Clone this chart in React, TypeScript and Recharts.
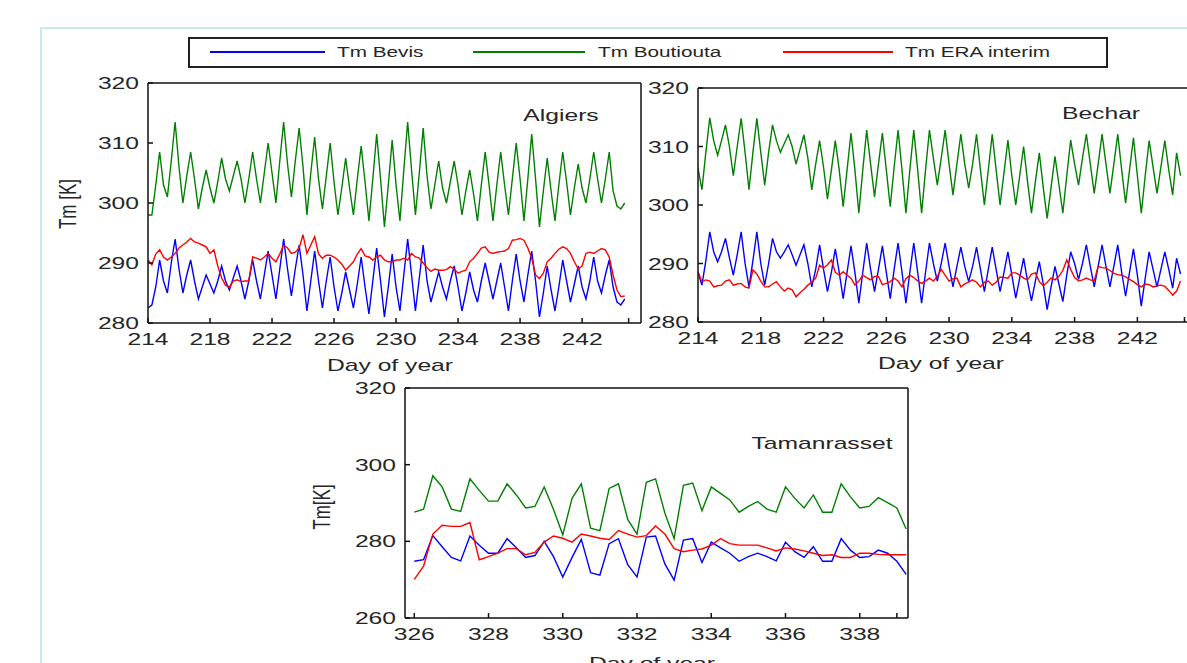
import { LineChart, Line, XAxis, YAxis } from 'recharts';

const FONT = '"Liberation Sans", Arial, sans-serif';
const INK = '#262626';
const STRETCH = 1.45;

const seriesColors = {
  bevis: '#0000ff',
  boutiouta: '#008000',
  era: '#ff0000',
};

const legendItems = [
  { key: 'bevis', label: 'Tm Bevis', x1: 210, x2: 325, tx: 337 },
  { key: 'boutiouta', label: 'Tm Boutiouta', x1: 473, x2: 585, tx: 598 },
  { key: 'era', label: 'Tm ERA interim', x1: 783, x2: 893, tx: 905 },
];

// ---- Algiers / Bechar: one row per day, values at 00, 06, 12, 18 UTC ----
const augStart = 214;
const augTicks = [214, 218, 222, 226, 230, 234, 238, 242, 245];
const augDomain = [214, 245.8];
const tempTicks = [280, 290, 300, 310, 320];

const algiersBevis = [
  [282.5, 283, 286, 290.5], [287, 285, 290, 294], [289, 285, 288, 290.5], [287, 284, 286, 288],
  [286.5, 285, 287, 289.5], [287, 285.5, 287.5, 289.5], [287, 284, 287, 290.5], [287, 284, 288, 292],
  [288, 284, 289, 294], [289, 284.5, 289, 293], [288, 282, 287, 292], [287, 282.5, 287, 291],
  [286, 282, 285, 288.5], [285.5, 282.5, 286.5, 291], [286, 281.5, 287, 292.5], [287, 281, 286, 291.5],
  [286, 282, 288, 294], [288, 282, 287.5, 293], [287, 283.5, 286, 288.5], [286, 284, 287, 289.5],
  [286, 282, 285, 288.5], [285.5, 283.5, 287, 290], [287, 284, 287, 290], [286, 282, 287, 291.5],
  [287, 283.5, 288, 292], [287, 281, 285, 289.5], [285.5, 282, 286, 290.5], [287, 283.5, 286.5, 289.5],
  [286, 284, 287, 291], [287, 285, 288, 290.5], [286, 283.5, 283, 284],
];

const algiersBoutiouta = [
  [298, 298, 303, 308.5], [303, 301, 307, 313.5], [306, 300, 304.5, 308.5], [304, 299, 302.5, 305.5],
  [302.5, 300, 303.5, 307.5], [304, 302, 304.5, 307], [304, 300, 304, 308.5], [304, 300, 305, 310],
  [305, 300, 307, 313.5], [306.5, 301, 307, 312.5], [306, 298, 305, 311], [304, 299, 304.5, 310],
  [303.5, 298, 302.5, 307.5], [302.5, 298, 304, 309.5], [303.5, 297, 304, 311.5], [304, 296, 303, 310.5],
  [303, 297, 305.5, 313.5], [305.5, 298, 305, 312.5], [304.5, 299, 303, 307], [302.5, 300, 303.5, 307],
  [303, 298, 302, 305.5], [301.5, 297, 303, 308.5], [303, 297, 303, 308.5], [303, 298, 304, 310],
  [304, 297, 304, 311.5], [304, 296, 302, 307.5], [302, 297, 303, 308.5], [303.5, 298, 302.5, 306.5],
  [302.5, 300, 304, 308.5], [304, 300, 304, 308.5], [302, 299.5, 299, 300],
];

const algiersEra = [
  [290.5, 289.7, 291.5, 292.2], [291, 290.5, 291, 291.6], [292.5, 293, 293.5, 294.1], [293.5, 293.3, 293, 292.7],
  [291.6, 292.2, 289.5, 287.5], [286.3, 286, 287, 287.2], [286.9, 287, 287, 291], [290.8, 290.5, 291, 291.6],
  [290.8, 290.2, 291.5, 293], [292.5, 291.6, 291.8, 292.5], [294.7, 291.6, 293, 294.4], [291.5, 290.8, 291.3, 291.3],
  [291, 290.5, 289.8, 288.8], [289.5, 290.2, 291.5, 292.4], [291.2, 291, 290.5, 291], [291.3, 290.5, 290.2, 290.2],
  [290.5, 290.5, 290.8, 290.5], [291.6, 291, 290.8, 290], [289.2, 288.6, 289, 288.8], [288.8, 288.9, 289.4, 289],
  [288.3, 288.6, 288.8, 290.2], [290.8, 291.6, 292.5, 292.7], [291.8, 291.6, 291.8, 291.9], [292, 292.4, 293.8, 293.9],
  [294.1, 293.8, 292.5, 290.8], [288, 287.4, 288.3, 290.2], [290.8, 291.6, 292.3, 292.7], [292.4, 291.6, 290.2, 289],
  [289.5, 291.6, 291.8, 291.6], [292, 292.4, 292.2, 291], [288, 285.5, 284.4, 284.5],
];

const becharBevis = [
  [288.5, 286.3, 290.5, 295.4], [292, 290.3, 292, 294.3], [291, 288, 291.5, 295.4], [290, 286, 290.5, 295.4],
  [290, 286.3, 290, 294.3], [292, 290.9, 292, 293.2], [291.5, 289.7, 291.5, 293.2], [290, 286, 289, 293.2],
  [289, 285.2, 288.5, 292.5], [288.5, 284, 288.5, 293], [288.5, 283.2, 288.5, 293.5], [289, 285.2, 289, 293],
  [288.5, 284, 289, 293.5], [288.5, 283.2, 288.5, 293.5], [288.5, 283.2, 288.5, 293.5], [290, 287, 290, 293.5],
  [289.5, 286, 289.5, 292.8], [289.5, 286.9, 289.5, 292.8], [289, 285.2, 289, 292.8], [289, 285.2, 288.5, 292],
  [288, 284.1, 287.5, 290.9], [287, 283.6, 287, 290.3], [286.5, 282.1, 286, 289.5], [286.5, 283.5, 288, 292],
  [290, 287.3, 290, 293.2], [289.5, 286, 289.5, 293.2], [289.5, 286, 289.5, 293.2], [288.5, 284.4, 288.5, 292.5],
  [288, 282.7, 287.5, 292], [289, 286, 289, 292], [289, 285.8, 290.9, 288.2],
];

const becharBoutiouta = [
  [306.3, 302.6, 309, 314.9], [311, 308.5, 311, 313.7], [310, 305, 310, 314.8], [309, 302.6, 309, 314.8],
  [309, 303.4, 309, 313.7], [311, 309, 310.5, 312], [310, 307, 309.5, 312], [308, 302.6, 307, 311],
  [306.5, 301, 306, 311], [306, 299.7, 306, 312.3], [306, 298.6, 306, 312.8], [307, 301.4, 307, 312.3],
  [306, 299.7, 306.5, 312.8], [306, 298.6, 306, 312.8], [306, 298.6, 306, 312.8], [308, 303.4, 308, 312.8],
  [307, 301.7, 307, 312.1], [307, 302.9, 307, 312.1], [306, 300, 306, 312.1], [306, 300, 305.5, 311.1],
  [305, 300, 305, 310], [304, 298.6, 304, 308.9], [303, 297.7, 303, 308.3], [303.5, 298.6, 305, 311.1],
  [307, 303.4, 308, 312.1], [307, 302, 307, 312.1], [307, 302, 307, 312.1], [306, 300.3, 306, 311.5],
  [305, 298.6, 305, 311], [306.5, 302, 306.5, 311], [306, 301.7, 308.9, 305],
];

const becharEra = [
  [288.6, 286.9, 287.2, 287], [286, 286.2, 286.3, 287], [287.2, 286.3, 286.5, 286.6], [286, 285.8, 288.9, 288.2],
  [287, 286, 286, 286.5], [286.9, 286, 285.3, 285.8], [285.5, 284.3, 285, 285.6], [286.3, 286.8, 287.5, 289.7],
  [289.2, 289.8, 290.6, 288.5], [288, 288.6, 288, 287.5], [286.3, 287, 288, 287.6], [287.2, 287.8, 287.8, 286.4],
  [286.6, 286.9, 287.5, 287], [286, 287.4, 288, 287.6], [287, 286.6, 287, 287.5], [287, 287.8, 289, 288],
  [287, 287.4, 287.5, 286], [286.5, 286.8, 287.2, 286.8], [286, 286.8, 287, 286.3], [286.8, 287.7, 287.6, 287.5],
  [288.4, 288.4, 288, 287.5], [287.2, 288.2, 288.4, 286.9], [286.2, 286.8, 287.5, 287.2], [287.8, 288.8, 290.6, 289],
  [287.6, 287, 287.2, 287.5], [287.2, 287, 289.5, 289.3], [289.2, 288.8, 288.3, 288.1], [288, 287.7, 287.3, 286.9],
  [286.4, 286, 286.5, 286.4], [286, 286.2, 286.3, 286.1], [285.4, 284.6, 285.3, 287],
];

// ---- Tamanrasset: 6-hourly from day 326 ----
const novStart = 326;
const novTicks = [326, 328, 330, 332, 334, 336, 338, 339];
const novDomain = [325.75, 339.3];
const novTempTicks = [260, 280, 300, 320];

const tamBevis = [
  274.8, 275.2, 281.5, 278.6, 275.8, 274.9, 281.4, 279, 276.9, 276.9,
  280.7, 278.3, 275.8, 276.3, 280, 276, 270.7, 275.8, 280.5, 271.8,
  271.2, 279.4, 280.7, 273.9, 270.7, 281.1, 281.4, 274.1, 269.9, 280.3,
  280.7, 274.5, 279.8, 278.3, 276.9, 274.8, 276, 276.9, 276, 274.9,
  279.8, 277.3, 275.8, 278.6, 274.8, 274.8, 280.7, 277.7, 275.8, 276,
  277.7, 276.9, 274.8, 271.4,
];

const tamBoutiouta = [
  287.6, 288.4, 297.1, 294.2, 288.4, 287.8, 296.3, 293.3, 290.5, 290.5,
  295, 292.1, 288.7, 289.1, 294.2, 288.3, 281.7, 291.2, 295, 283.4,
  282.8, 293.8, 295, 285.7, 281.9, 295.4, 296.3, 287.4, 280.7, 294.6,
  295.2, 288, 294.2, 292.5, 290.8, 287.6, 289.1, 290.4, 288.4, 287.6,
  294.2, 291.2, 288.7, 292.1, 287.6, 287.6, 295, 291.6, 288.7, 289.1,
  291.4, 290.1, 288.7, 283.2,
];

const tamEra = [
  270.1, 273.5, 281.9, 284.2, 283.9, 283.9, 284.9, 275.2, 276, 276.9,
  278.1, 278.1, 276.5, 277.1, 279.8, 281.4, 280.8, 279.8, 281.9, 281.4,
  280.8, 280.5, 282.8, 281.9, 281.1, 281.5, 284, 281.9, 278.1, 277.3,
  277.7, 278, 279, 280.7, 279.4, 279, 279, 279, 278.3, 277.5,
  278.3, 278, 277.5, 276.9, 276.3, 276.5, 275.8, 275.8, 276.9, 276.9,
  276.6, 276.5, 276.5, 276.5,
];

function buildRows(start: number, bevis: number[], bout: number[], era: number[]) {
  return bevis.map((v, i) => ({ t: start + i * 0.25, bevis: v, boutiouta: bout[i], era: era[i] }));
}

const algiersData = buildRows(augStart, algiersBevis.flat(), algiersBoutiouta.flat(), algiersEra.flat());
const becharData = buildRows(augStart, becharBevis.flat(), becharBoutiouta.flat(), becharEra.flat());
const tamData = buildRows(novStart, tamBevis, tamBoutiouta, tamEra);

const XTick = ({ x, y, payload, skip }: any) =>
  payload.value === skip ? <g /> : (
    <text
      transform={`translate(${x},${y}) scale(${STRETCH},1)`}
      textAnchor="middle"
      dy="0.72em"
      fontSize={17}
      fill={INK}
      fontFamily={FONT}
    >
      {payload.value}
    </text>
  );

const YTick = ({ x, y, payload }: any) => (
  <text
    transform={`translate(${x},${y}) scale(${STRETCH},1)`}
    textAnchor="end"
    dy="0.36em"
    fontSize={17}
    fill={INK}
    fontFamily={FONT}
  >
    {payload.value}
  </text>
);

interface PanelProps {
  left: number;
  top: number;
  width: number;
  height: number;
  data: any[];
  xDomain: number[];
  xTicks: number[];
  skip: number;
  yDomain: number[];
  yTicks: number[];
}

function Panel({ left, top, width, height, data, xDomain, xTicks, skip, yDomain, yTicks }: PanelProps) {
  const axisStyle = { stroke: '#111', strokeWidth: 1.5 };
  return (
    <div style={{ position: 'absolute', left, top }}>
      <LineChart width={width} height={height} data={data} margin={{ top: 9, right: 6, bottom: 27, left: 0 }}>
        <XAxis
          dataKey="t"
          type="number"
          domain={xDomain}
          ticks={xTicks}
          interval={0}
          allowDataOverflow
          height={30}
          tickSize={-5}
          tickMargin={15}
          tick={<XTick skip={skip} />}
          {...axisStyle}
        />
        {/* top and right axes close the box with inward ticks */}
        <XAxis
          xAxisId="top"
          orientation="top"
          dataKey="t"
          type="number"
          domain={xDomain}
          ticks={xTicks}
          interval={0}
          allowDataOverflow
          height={1}
          tickSize={-5}
          tick={false}
          {...axisStyle}
        />
        <YAxis
          type="number"
          domain={yDomain}
          ticks={yTicks}
          interval={0}
          allowDataOverflow
          width={60}
          tickSize={-5}
          tickMargin={14}
          tick={<YTick />}
          {...axisStyle}
        />
        <YAxis
          yAxisId="right"
          orientation="right"
          type="number"
          domain={yDomain}
          ticks={yTicks}
          interval={0}
          allowDataOverflow
          width={1}
          tickSize={-5}
          tick={false}
          {...axisStyle}
        />
        <Line dataKey="bevis" stroke={seriesColors.bevis} strokeWidth={1.4} dot={false} isAnimationActive={false} />
        <Line dataKey="boutiouta" stroke={seriesColors.boutiouta} strokeWidth={1.4} dot={false} isAnimationActive={false} />
        <Line
          dataKey="era"
          xAxisId="top"
          yAxisId="right"
          stroke={seriesColors.era}
          strokeWidth={1.4}
          dot={false}
          isAnimationActive={false}
        />
      </LineChart>
    </div>
  );
}

const textBase = {
  position: 'absolute' as const,
  fontFamily: FONT,
  fontSize: 17,
  color: INK,
  whiteSpace: 'nowrap' as const,
  lineHeight: 1,
};

function Label({ cx, cy, text, rotate }: { cx: number; cy: number; text: string; rotate?: boolean }) {
  const transform = rotate
    ? `translate(-50%,-50%) rotate(-90deg) scale(1,${STRETCH})`
    : `translate(-50%,-50%) scale(${STRETCH},1)`;
  return <div style={{ ...textBase, left: cx, top: cy, transform }}>{text}</div>;
}

export default function App() {
  return (
    <div style={{ position: 'absolute', left: 0, top: 0, width: 1187, height: 663, overflow: 'hidden', background: '#fff' }}>
      {/* faint page frame */}
      <div style={{ position: 'absolute', left: 40, top: 27, width: 1200, height: 700, borderLeft: '2px solid #c6e9ec', borderTop: '2px solid #c6e9ec' }} />

      {/* legend */}
      <div style={{ position: 'absolute', left: 188, top: 37, width: 920, height: 31, border: '2px solid #222', boxSizing: 'border-box', background: '#fff' }} />
      {legendItems.map((it) => (
        <div key={it.key}>
          <div style={{ position: 'absolute', left: it.x1, top: 51, width: it.x2 - it.x1, height: 2, background: seriesColors[it.key as keyof typeof seriesColors] }} />
          <div style={{ ...textBase, fontSize: 14, left: it.tx, top: 52, transformOrigin: 'left center', transform: `translateY(-50%) scale(1.48,1)` }}>
            {it.label}
          </div>
        </div>
      ))}

      <Panel left={88} top={73} width={560} height={307} data={algiersData} xDomain={augDomain} xTicks={augTicks} skip={245} yDomain={[280, 320]} yTicks={tempTicks} />
      <Panel left={638} top={78} width={566} height={301} data={becharData} xDomain={augDomain} xTicks={augTicks} skip={245} yDomain={[280, 320]} yTicks={tempTicks} />
      <Panel left={345} top={378} width={570} height={297} data={tamData} xDomain={novDomain} xTicks={novTicks} skip={339} yDomain={[260, 320]} yTicks={novTempTicks} />

      <Label cx={561} cy={115} text="Algiers" />
      <Label cx={1101} cy={113} text="Bechar" />
      <Label cx={822} cy={443} text="Tamanrasset" />

      <Label cx={68} cy={204} text="Tm [K]" rotate />
      <Label cx={322} cy={507} text="Tm[K]" rotate />

      <Label cx={390} cy={365} text="Day of year" />
      <Label cx={941} cy={363} text="Day of year" />
      <Label cx={652} cy={663} text="Day of year" />
    </div>
  );
}
